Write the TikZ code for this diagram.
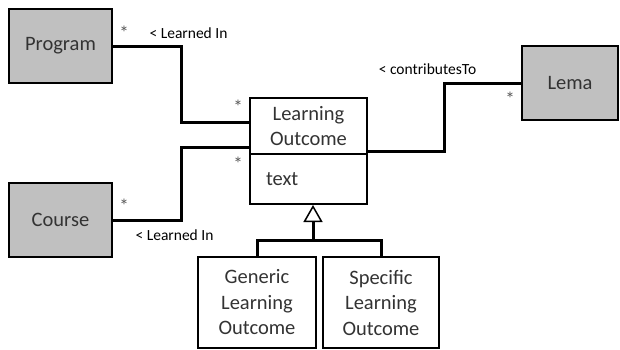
\documentclass[tikz,border=0pt]{standalone}
\usepackage{fontspec}
\setmainfont{Carlito}
\usetikzlibrary{calc,arrows.meta}
\definecolor{boxgray}{HTML}{C0C0C0}
\definecolor{inkgray}{HTML}{333333}
\tikzset{
  elbow/.style = {to path = {-| ($(\tikztostart)!0.5!(\tikztotarget)$) |- (\tikztotarget)}},
}
\begin{document}
\begin{tikzpicture}[x=1pt, y=-1pt]
\useasboundingbox (0,0) rectangle (620,349);
\begin{scope}[every node/.style = {rectangle, draw, line width=2pt, text=inkgray, align=center,
    font=\fontsize{20.5}{24.7}\selectfont}]
\node[fill=boxgray, minimum width=103, minimum height=74] (prog) at (60.5,46) {Program};
\node[fill=boxgray, minimum width=103, minimum height=74] (course) at (60.5,220) {Course};
\node[fill=boxgray, minimum width=96, minimum height=74] (lema) at (570,83) {Lema};
\node[minimum width=117, minimum height=56] (lo) at (308.5,126) {Learning\\Outcome};
\node[minimum width=117, minimum height=50, text width=85, inner xsep=16, align=left] (lotext) at (308.5,179) {text};
\node[minimum width=118, minimum height=91, font=\fontsize{20.5}{25.5}\selectfont] (generic) at (257,302.5) {Generic\\Learning\\Outcome};
\node[minimum width=116, minimum height=91, font=\fontsize{20.5}{25.5}\selectfont] (specific) at (381,302.5) {Specific\\Learning\\Outcome};
\end{scope}
\begin{scope}[every edge/.style = {draw, line width=3pt}]
\path (prog.east) edge[elbow] ([yshift=4pt]lo.west);
\path (course.east) edge[elbow] ([yshift=-21pt]lo.west);
\path ([yshift=-25pt]lo.east) edge[elbow] (lema.west);
\end{scope}
% generalization
\coordinate (branch) at (313,240);
\draw[line width=3pt] (generic.north) |- (branch) -| (specific.north);
\draw[line width=3pt, -{Triangle[open, width=19pt, length=17pt, line width=1.5pt, fill=white]}] (branch) -- (branch |- lotext.south);
% role labels
\begin{scope}[every node/.style = {inner sep=0pt, font=\fontsize{15.5}{18}\selectfont}]
\node (l1) at (188.5,33) {< Learned In};
\node (l2) at (174.5,235) {< Learned In};
\node (l3) at (427.5,69) {< contributesTo};
\end{scope}
\begin{scope}[every node/.style = {inner sep=0pt, text=black!65, font=\fontsize{19}{20}\selectfont}]
\node (s1) at (124,33) {*};
\node (s2) at (238,107) {*};
\node (s3) at (238,164) {*};
\node (s4) at (124,206) {*};
\node (s5) at (510,99) {*};
\end{scope}
\end{tikzpicture}
\end{document}
